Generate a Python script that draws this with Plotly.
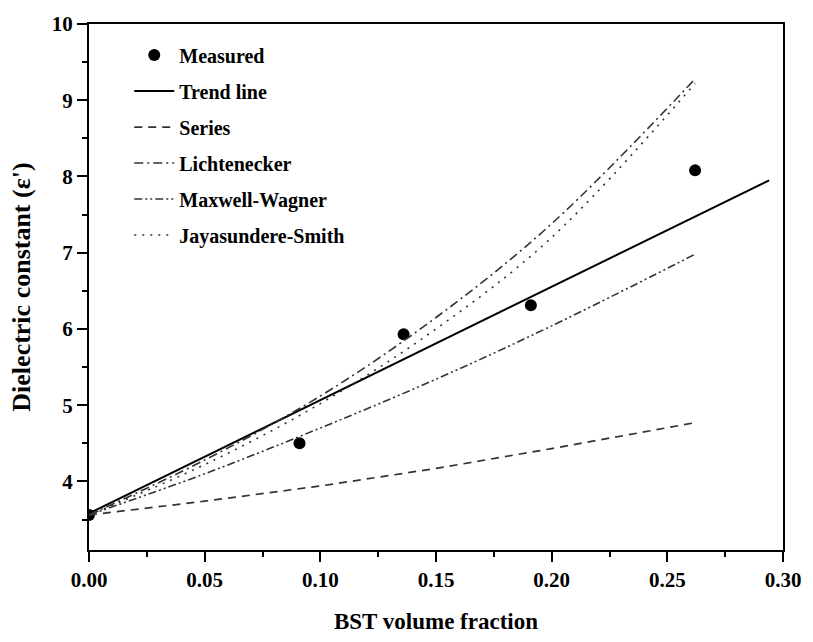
import plotly.graph_objects as go

# Measured data
meas_x = [0.0, 0.091, 0.136, 0.191, 0.262]
meas_y = [3.56, 4.50, 5.93, 6.31, 8.08]

# Trend line (linear fit)
trend_x = [0.0, 0.294]
trend_y = [3.58, 7.95]

# Model curves
model_x = [0.0, 0.05, 0.10, 0.15, 0.20, 0.262]
series_y = [3.56, 3.74, 3.94, 4.17, 4.43, 4.77]
licht_y = [3.56, 4.28, 5.12, 6.15, 7.38, 9.28]
mw_y = [3.56, 4.10, 4.70, 5.34, 6.04, 6.98]
js_y = [3.56, 4.22, 5.02, 6.00, 7.20, 9.22]

x_ticks = [0.0, 0.05, 0.10, 0.15, 0.20, 0.25, 0.30]
y_ticks = [4, 5, 6, 7, 8, 9, 10]

FONT = "Liberation Serif"
GRAY = "#333333"

fig = go.Figure()
fig.add_trace(go.Scatter(x=meas_x, y=meas_y, mode="markers", name="Measured",
                         legendgroup="a",
                         marker=dict(color="black", size=12)))
fig.add_trace(go.Scatter(x=trend_x, y=trend_y, mode="lines", name="Trend line",
                         legendgroup="b",
                         line=dict(color="black", width=2)))
fig.add_trace(go.Scatter(x=model_x, y=series_y, mode="lines", name="Series",
                         legendgroup="c",
                         line=dict(color=GRAY, width=1.7, dash="8px,6px")))
fig.add_trace(go.Scatter(x=model_x, y=licht_y, mode="lines", name="Lichtenecker",
                         legendgroup="d", line_shape="spline",
                         line=dict(color=GRAY, width=1.6, dash="9px,4px,2px,4px")))
fig.add_trace(go.Scatter(x=model_x, y=mw_y, mode="lines", name="Maxwell-Wagner",
                         legendgroup="e", line_shape="spline",
                         line=dict(color=GRAY, width=1.6, dash="8px,3px,2px,3px,2px,3px")))
fig.add_trace(go.Scatter(x=model_x, y=js_y, mode="lines", name="Jayasundere-Smith",
                         legendgroup="f", line_shape="spline",
                         line=dict(color=GRAY, width=1.6, dash="2px,6px")))

axis_common = dict(
    showline=True, linecolor="black", linewidth=2, mirror=True,
    ticks="outside", ticklen=10, tickwidth=2, tickcolor="black",
    showgrid=False, zeroline=False,
    tickfont=dict(family=FONT, size=21, color="black", weight="bold"),
)

fig.update_layout(
    width=813, height=642,
    margin=dict(l=89, r=25, t=19, b=92),
    paper_bgcolor="white", plot_bgcolor="white",
    showlegend=True,
    legend=dict(x=0.058, y=0.978, xanchor="left", yanchor="top",
                bgcolor="rgba(0,0,0,0)", borderwidth=0,
                traceorder="grouped", tracegroupgap=7, itemwidth=40,
                font=dict(family=FONT, size=20, color="black", weight="bold")),
    xaxis=dict(range=[0, 0.30], tickvals=x_ticks,
               ticktext=[f"{v:.2f}" for v in x_ticks],
               minor=dict(ticks="outside", ticklen=5, tickwidth=2, tickcolor="black",
                          dtick=0.025, tick0=0),
               title=dict(text="BST volume fraction", standoff=22,
                          font=dict(family=FONT, size=23, color="black", weight="bold")),
               **axis_common),
    yaxis=dict(range=[3.1, 10], tickvals=y_ticks,
               ticktext=[str(v) for v in y_ticks],
               minor=dict(ticks="outside", ticklen=5, tickwidth=2, tickcolor="black",
                          dtick=0.5, tick0=0),
               title=dict(text="Dielectric constant (ε')", standoff=14,
                          font=dict(family=FONT, size=26, color="black", weight="bold")),
               **axis_common),
)

fig.write_html("out.html")
